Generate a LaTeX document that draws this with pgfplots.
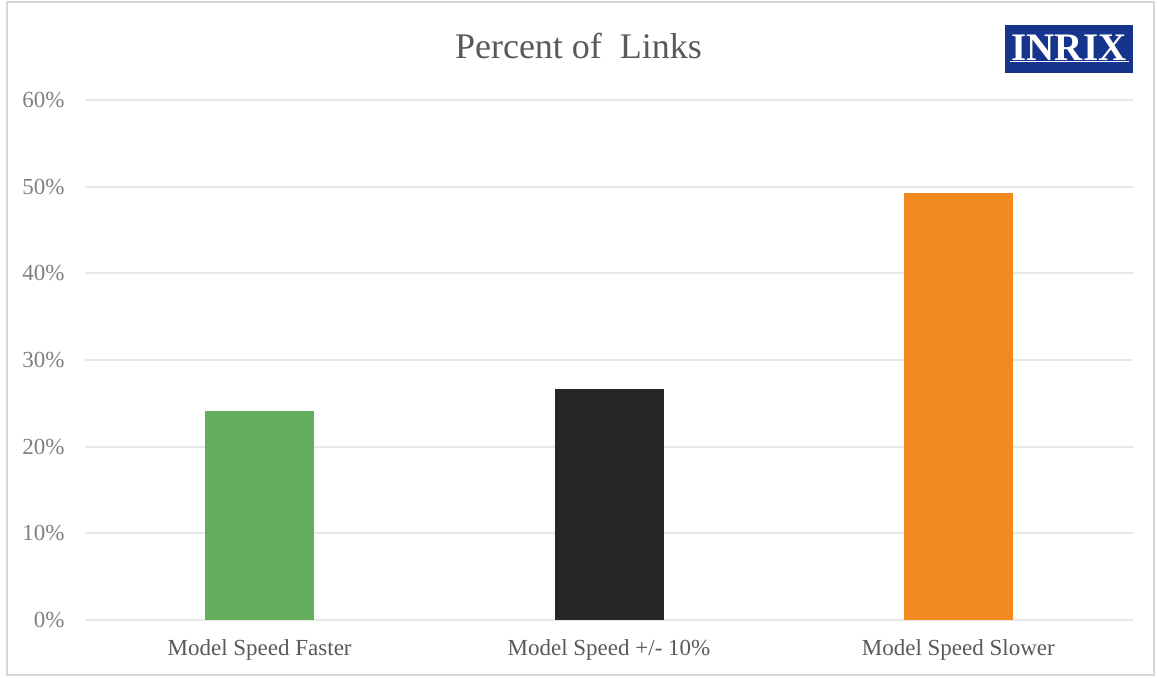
\documentclass[border=0pt]{standalone}
\usepackage{pgfplots}
\pgfplotsset{compat=1.18}
\usepackage{fontspec}
\setmainfont{Liberation Serif}

\definecolor{barGreen}{RGB}{99,173,92}
\definecolor{barDark}{RGB}{38,38,38}
\definecolor{barOrange}{RGB}{242,138,32}
\definecolor{gridGray}{RGB}{232,232,232}
\definecolor{frameGray}{RGB}{215,215,215}
\definecolor{tickGray}{RGB}{128,128,128}
\definecolor{labelGray}{RGB}{89,89,89}
\definecolor{inrixBlue}{RGB}{22,52,140}

\begin{document}
\begin{tikzpicture}
\begin{axis}[
  at={(0,0)}, anchor=south west,
  scale only axis, width=524pt, height=260pt,
  ymin=0, ymax=60, ytick={0,10,...,60},
  xmin=-0.5, xmax=2.5, xtick={0,1,2},
  xticklabels={Model Speed Faster, Model Speed +/- 10\%, Model Speed Slower},
  ymajorgrids, grid style={draw=gridGray, line width=1pt},
  axis line style={draw=none}, major tick length=0pt,
  yticklabel={\pgfmathprintnumber{\tick}\%},
  /pgf/number format/assume math mode=true,
  yticklabel style={font=\fontsize{11.5}{13}\selectfont, text=tickGray, anchor=east, inner sep=0pt, xshift=-10pt},
  xticklabel style={font=\fontsize{11.5}{13}\selectfont, text=labelGray, anchor=north, inner sep=0pt, yshift=-9.5pt},
  ybar, bar shift=0pt, bar width=54.5pt,
  clip=false,
  title={Percent of\ \ Links},
  title style={font=\fontsize{18}{20}\selectfont, text=labelGray, at={(0.5,1)}, anchor=base, yshift=15pt, xshift=-15.25pt},
]
\addplot[fill=barGreen, draw=none] coordinates {(0,24.1)};
\addplot[fill=barDark, draw=none] coordinates {(1,26.6)};
\addplot[fill=barOrange, draw=none] coordinates {(2,49.3)};
\end{axis}
% logo box in the upper right corner
\fill[inrixBlue] (460pt,260pt+13.7pt) rectangle (524pt,260pt+37.5pt);
\draw[white, line width=0.6pt] (462.5pt,260pt+19.4pt) -- (522pt,260pt+19.4pt);
\node[text=white, font=\bfseries\fontsize{19.5}{20}\selectfont, anchor=base, inner sep=0pt] at (492pt,260pt+19.8pt) {INRIX};
% outer frame and page bounds
\pgfresetboundingbox
\draw[frameGray, line width=1pt] (-39pt,-27.5pt) rectangle (534.5pt,309pt);
\path[use as bounding box] (-42.5pt,-28.5pt) rectangle (536pt,310pt);
\end{tikzpicture}
\end{document}
